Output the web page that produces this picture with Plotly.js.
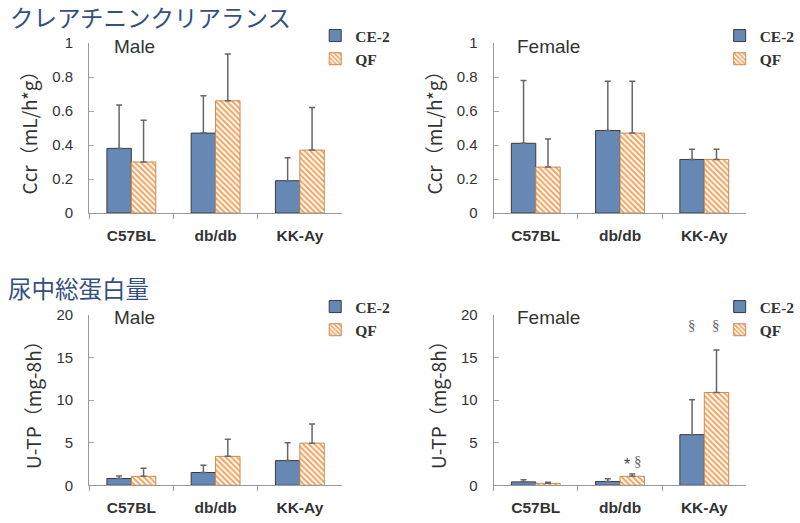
<!DOCTYPE html>
<html>
<head>
<meta charset="utf-8">
<script src="https://cdn.plot.ly/plotly-3.0.1.min.js"></script>
<style>html,body{margin:0;padding:0;background:#fff}#chart{width:800px;height:523px}</style>
</head>
<body>
<div id="chart"></div>
<script>
const categories = ["C57BL", "db/db", "KK-Ay"];
const seriesNames = ["CE-2", "QF"];

const ccrMaleCE2 = [0.38, 0.47, 0.19];
const ccrMaleCE2Err = [0.255, 0.22, 0.135];
const ccrMaleQF = [0.30, 0.66, 0.37];
const ccrMaleQFErr = [0.245, 0.275, 0.25];

const ccrFemaleCE2 = [0.41, 0.485, 0.315];
const ccrFemaleCE2Err = [0.37, 0.29, 0.06];
const ccrFemaleQF = [0.27, 0.47, 0.315];
const ccrFemaleQFErr = [0.165, 0.305, 0.06];

const utpMaleCE2 = [0.8, 1.5, 2.9];
const utpMaleCE2Err = [0.3, 0.85, 2.1];
const utpMaleQF = [1.05, 3.4, 4.95];
const utpMaleQFErr = [0.95, 2.0, 2.25];

const utpFemaleCE2 = [0.4, 0.45, 5.95];
const utpFemaleCE2Err = [0.25, 0.33, 4.1];
const utpFemaleQF = [0.23, 1.06, 10.9];
const utpFemaleQFErr = [0.12, 0.27, 5.0];

const sectionTitles = ["クレアチニンクリアランス", "尿中総蛋白量"];
const panelLabels = ["Male", "Female", "Male", "Female"];
const yTitles = ["Ccr（mL/h*g）", "U-TP（mg-8h）"];

const H = 523, W = 800;
const blue = "#6688b4", orange = "#f6a25a";

function ceTrace(y, err, ax, leg) {
  return {
    type: "bar", x: categories, y: y, name: seriesNames[0],
    xaxis: "x" + ax, yaxis: "y" + ax, legend: leg, legendgroup: "a",
    marker: {color: blue, line: {color: "#3a3a3a", width: 1}},
    error_y: {type: "data", array: err, symmetric: false, arrayminus: err.map(() => 0),
              color: "#666", thickness: 1.5, width: 3}
  };
}
function qfTrace(y, err, ax, leg) {
  return {
    type: "bar", x: categories, y: y, name: seriesNames[1],
    xaxis: "x" + ax, yaxis: "y" + ax, legend: leg, legendgroup: "b",
    marker: {color: "#ffffff", line: {color: "#c98a55", width: 1},
             pattern: {shape: "\\", fgcolor: orange, bgcolor: "#ffffff", size: 4, solidity: 0.5}},
    error_y: {type: "data", array: err, symmetric: false, arrayminus: err.map(() => 0),
              color: "#666", thickness: 1.5, width: 3}
  };
}

const data = [
  ceTrace(ccrMaleCE2, ccrMaleCE2Err, "", "legend"),
  qfTrace(ccrMaleQF, ccrMaleQFErr, "", "legend"),
  ceTrace(ccrFemaleCE2, ccrFemaleCE2Err, "2", "legend2"),
  qfTrace(ccrFemaleQF, ccrFemaleQFErr, "2", "legend2"),
  ceTrace(utpMaleCE2, utpMaleCE2Err, "3", "legend3"),
  qfTrace(utpMaleQF, utpMaleQFErr, "3", "legend3"),
  ceTrace(utpFemaleCE2, utpFemaleCE2Err, "4", "legend4"),
  qfTrace(utpFemaleQF, utpFemaleQFErr, "4", "legend4")
];

const tickFontY = {family: "Liberation Sans, Arial, sans-serif", size: 15, color: "#333"};
const tickFontX = {family: "Liberation Sans, Arial, sans-serif", size: 15.5, color: "#333", weight: "bold"};
const titleFont = {family: "Noto Sans CJK JP, sans-serif", size: 19, color: "#333"};

function xAxis(dom, anchor) {
  return {domain: dom, anchor: anchor, type: "category", showline: true, linecolor: "#999", linewidth: 1,
          ticks: "outside", tickson: "boundaries", ticklen: 5, tickcolor: "#999",
          tickfont: tickFontX, ticklabelstandoff: 8, showgrid: false, zeroline: false, fixedrange: true};
}
function yAxis(dom, anchor, range, dtick, title) {
  return {domain: dom, anchor: anchor, range: range, dtick: dtick, showline: true, linecolor: "#999", linewidth: 1,
          ticks: "inside", ticklen: 5, tickcolor: "#aaa", tickfont: tickFontY, ticklabelstandoff: 12,
          showgrid: false, zeroline: false,
          title: {text: title, font: titleFont, standoff: 9}};
}

const xl = [90 / W, 345 / W], xr = [498 / W, 753 / W];
const yt = [1 - 213 / H, 1 - 43 / H], yb = [1 - 485.3 / H, 1 - 315 / H];

function legendAt(x, y) {
  return {x: x, y: y, xanchor: "left", yanchor: "top", bgcolor: "rgba(0,0,0,0)",
          font: {family: "Liberation Serif, Times New Roman, serif", size: 15.5, color: "#333", weight: "bold"},
          tracegroupgap: 9, itemwidth: 30, traceorder: "normal"};
}

const annFont = {family: "Liberation Sans, Arial, sans-serif", size: 19, color: "#333"};
const markFont = {family: "Liberation Serif, serif", size: 15, color: "#666"};

const layout = {
  width: W, height: H, margin: {l: 0, r: 0, t: 0, b: 0},
  paper_bgcolor: "#fff", plot_bgcolor: "#fff",
  barmode: "group", bargap: 0.42, bargroupgap: 0,
  xaxis: xAxis(xl, "y"), yaxis: yAxis(yt, "x", [0, 1], 0.2, yTitles[0]),
  xaxis2: xAxis(xr, "y2"), yaxis2: yAxis(yt, "x2", [0, 1], 0.2, yTitles[0]),
  xaxis3: xAxis(xl, "y3"), yaxis3: yAxis(yb, "x3", [0, 20], 5, yTitles[1]),
  xaxis4: xAxis(xr, "y4"), yaxis4: yAxis(yb, "x4", [0, 20], 5, yTitles[1]),
  legend: legendAt(318 / W, 1 - 19 / H),
  legend2: legendAt(726 / W, 1 - 19 / H),
  legend3: legendAt(318 / W, 1 - 290 / H),
  legend4: legendAt(726 / W, 1 - 290 / H),
  annotations: [
    {text: sectionTitles[0], xref: "paper", yref: "paper", x: 8 / W, y: 1 - 17 / H, xanchor: "left", yanchor: "middle",
     showarrow: false, font: {family: "Noto Sans CJK JP, sans-serif", size: 23.5, color: "#34507f"}},
    {text: sectionTitles[1], xref: "paper", yref: "paper", x: 6 / W, y: 1 - 288 / H, xanchor: "left", yanchor: "middle",
     showarrow: false, font: {family: "Noto Sans CJK JP, sans-serif", size: 23.5, color: "#34507f"}},
    {text: panelLabels[0], xref: "paper", yref: "paper", x: 113 / W, y: 1 - 47 / H, xanchor: "left", yanchor: "middle", showarrow: false, font: annFont},
    {text: panelLabels[1], xref: "paper", yref: "paper", x: 520 / W, y: 1 - 47 / H, xanchor: "left", yanchor: "middle", showarrow: false, font: annFont},
    {text: panelLabels[2], xref: "paper", yref: "paper", x: 113 / W, y: 1 - 317 / H, xanchor: "left", yanchor: "middle", showarrow: false, font: annFont},
    {text: panelLabels[3], xref: "paper", yref: "paper", x: 520 / W, y: 1 - 317 / H, xanchor: "left", yanchor: "middle", showarrow: false, font: annFont},
    {text: "§", xref: "x4", yref: "y4", x: "KK-Ay", y: 18.8, xshift: -12, showarrow: false, font: markFont},
    {text: "§", xref: "x4", yref: "y4", x: "KK-Ay", y: 18.8, xshift: 12, showarrow: false, font: markFont},
    {text: "*", xref: "x4", yref: "y4", x: "db/db", y: 2.4, xshift: 7, showarrow: false, font: {family: "Liberation Sans, sans-serif", size: 16, color: "#444"}},
    {text: "§", xref: "x4", yref: "y4", x: "db/db", y: 2.8, xshift: 18, showarrow: false, font: markFont}
  ]
};

Plotly.newPlot("chart", data, layout, {displayModeBar: false, staticPlot: true});
</script>
</body>
</html>
